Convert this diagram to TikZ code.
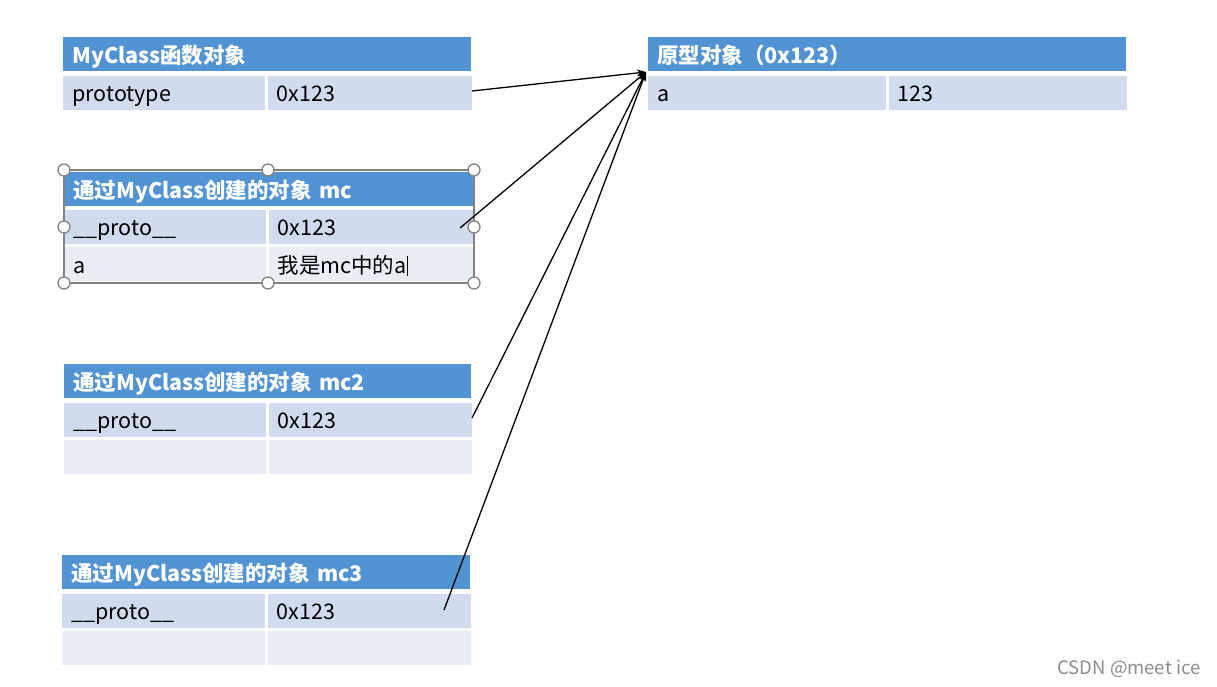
\documentclass[tikz,border=0pt]{standalone}
\usepackage{fontspec}
\setmainfont{Noto Sans CJK SC}
\usetikzlibrary{positioning,arrows.meta}

\definecolor{hdrblue}{RGB}{82,148,211}
\definecolor{rowdark}{RGB}{208,220,238}
\definecolor{rowlight}{RGB}{232,237,246}
\definecolor{selgray}{RGB}{130,130,130}

\newcommand{\cellfont}{\fontsize{21.5}{24}\selectfont}

\begin{document}
\begin{tikzpicture}[
    x=1pt, y=-1pt,
    hdr/.style={fill=hdrblue, text=white, font=\cellfont\bfseries, anchor=north west,
        inner xsep=9pt, inner ysep=0pt, minimum height=34pt, text width=#1, align=left,
        text height=18pt, text depth=0pt},
    keycell/.style={fill=rowdark, font=\cellfont, inner xsep=9pt, inner ysep=0pt,
        minimum height=34pt, text width=#1, align=left, text height=18pt, text depth=0pt},
    valcell/.style={keycell=#1},
    keylight/.style={keycell=#1, fill=rowlight},
    vallight/.style={keycell=#1, fill=rowlight},
    ptr/.style={-{Stealth[length=9pt,width=7pt]}, line width=1.3pt},
    handle/.style={circle, draw=selgray, fill=white, line width=1.3pt, inner sep=0pt, minimum size=12pt}
]
    \useasboundingbox (0,0) rectangle (1217,687);

    % MyClass function object
    \node[hdr=390pt] (fnh) at (63,37) {MyClass函数对象};
    \node[keycell=184pt, below right=4pt and 0pt of fnh.south west] (fnk) {prototype};
    \node[valcell=186pt, right=2pt of fnk] (fnv) {0x123};

    % prototype object
    \node[hdr=460pt] (protoh) at (648,37) {原型对象（0x123）};
    \node[keycell=220pt, below right=4pt and 0pt of protoh.south west] (protok) {a};
    \node[valcell=220pt, right=2pt of protok] (protov) {123};

    % mc
    \node[hdr=391pt] (mch) at (64,172) {通过MyClass创建的对象 mc};
    \node[keycell=184pt, below right=3pt and 0pt of mch.south west] (mck1) {\_\_proto\_\_};
    \node[valcell=187pt, right=2pt of mck1] (mcv1) {0x123};
    \node[keylight=184pt, below right=3pt and 0pt of mck1.south west] (mck2) {a};
    \node[vallight=187pt, right=2pt of mck2] (mcv2) {我是mc中的a\rule[-3pt]{1pt}{20pt}};

    % mc2
    \node[hdr=389pt] (mc2h) at (64,364) {通过MyClass创建的对象 mc2};
    \node[keycell=184pt, below right=4pt and 0pt of mc2h.south west] (mc2k1) {\_\_proto\_\_};
    \node[valcell=185pt, right=2pt of mc2k1] (mc2v1) {0x123};
    \node[keylight=184pt, below right=3pt and 0pt of mc2k1.south west] (mc2k2) {};
    \node[vallight=185pt, right=2pt of mc2k2] (mc2v2) {};

    % mc3
    \node[hdr=390pt] (mc3h) at (62,555) {通过MyClass创建的对象 mc3};
    \node[keycell=185pt, below right=4pt and 0pt of mc3h.south west] (mc3k1) {\_\_proto\_\_};
    \node[valcell=185pt, right=2pt of mc3k1] (mc3v1) {0x123};
    \node[keylight=185pt, below right=3pt and 0pt of mc3k1.south west] (mc3k2) {};
    \node[vallight=185pt, right=2pt of mc3k2] (mc3v2) {};

    % selection frame round mc
    \draw[selgray, line width=1.2pt] (64,170) rectangle (474,283);
    \foreach \hx/\hy in {64/170, 268/170, 474/170, 64/227, 474/227, 64/283, 268/283, 474/283}
        \node[handle] at (\hx,\hy) {};

    % pointers
    \coordinate (tip) at (646,72);
    \coordinate (fnp) at (472,91);
    \coordinate (mcp) at (460,228);
    \coordinate (mc2p) at (472,418);
    \coordinate (mc3p) at (444,610);
    \foreach \src in {fnp, mcp, mc2p, mc3p}
        \draw[ptr] (\src) -- (tip);

    \node[text=gray!90, font=\fontsize{18.5}{20}\selectfont, anchor=east] (mark) at (1204,669) {CSDN @meet ice};
\end{tikzpicture}
\end{document}
